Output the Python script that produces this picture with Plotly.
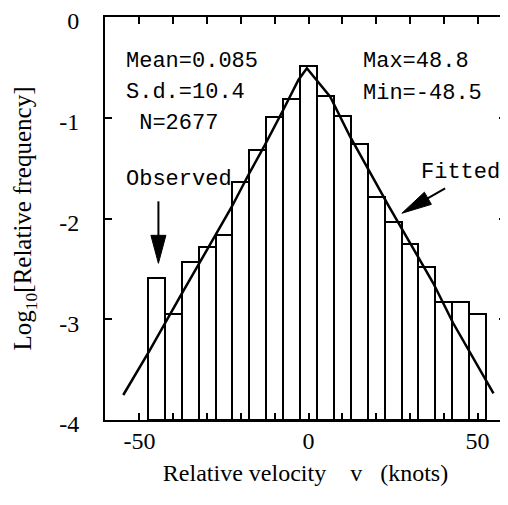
import plotly.graph_objects as go

# ---- data ----
bin_centers = [-45, -40, -35, -30, -25, -20, -15, -10, -5, 0,
               5, 10, 15, 20, 25, 30, 35, 40, 45, 50]
log_freq = [-2.59, -2.95, -2.43, -2.28, -2.16, -1.64, -1.32, -0.99, -0.81, -0.49,
            -0.78, -0.98, -1.26, -1.79, -2.03, -2.25, -2.48, -2.83, -2.83, -2.95]
bin_width = 5

fit_x = [-54.8, -46.9, -38.0, -28.2, -22.7, -17.8, -12.9, -7.5, -3.0, -0.5,
         6.4, 12.3, 17.2, 23.6, 36.9, 42.8, 54.7]
fit_y = [-3.752, -3.305, -2.776, -2.20, -1.883, -1.568, -1.270, -0.923, -0.625, -0.509,
         -0.791, -1.188, -1.486, -1.870, -2.643, -3.040, -3.735]

x_tickvals = [-50, -40, -30, -20, -10, 0, 10, 20, 30, 40, 50]
x_ticktext = ["-50", "", "", "", "", "0", "", "", "", "", "50"]
y_tickvals = [0, -1, -2, -3, -4]
y_ticktext = ["0", "-1", "-2", "-3", "-4"]

stats_left = ["Mean=0.085", "S.d.=10.4", " N=2677"]
stats_right = ["Max=48.8", "Min=-48.5"]

y_base = -4
x_range = [-60.2, 58.4]
y_range = [-4, 0]

serif = "Liberation Serif, Times New Roman, serif"
mono = "Liberation Mono, Courier New, monospace"

fig = go.Figure()
fig.add_trace(go.Bar(
    x=bin_centers,
    y=[v - y_base for v in log_freq],
    base=y_base,
    width=bin_width,
    marker=dict(color="white", line=dict(color="black", width=2)),
    showlegend=False,
))
fig.add_trace(go.Scatter(
    x=fit_x, y=fit_y, mode="lines",
    line=dict(color="black", width=2.5),
    showlegend=False,
))

annotations = []
for i, t in enumerate(stats_left):
    annotations.append(dict(x=-54.6, y=-0.44 - 0.31 * i, text=t, showarrow=False,
                            xanchor="left", yanchor="middle",
                            font=dict(family=mono, size=22, color="black")))
for i, t in enumerate(stats_right):
    annotations.append(dict(x=15.6, y=-0.445 - 0.31 * i, text=t, showarrow=False,
                            xanchor="left", yanchor="middle",
                            font=dict(family=mono, size=22, color="black")))
annotations.append(dict(x=-54.6, y=-1.61, text="Observed", showarrow=False,
                        xanchor="left", yanchor="middle",
                        font=dict(family=mono, size=22, color="black")))
annotations.append(dict(x=32.8, y=-1.54, text="Fitted", showarrow=False,
                        xanchor="left", yanchor="middle",
                        font=dict(family=mono, size=22, color="black")))

# arrows (pixel-sized shapes anchored at the arrow tips)
obs_tip = (-44.4, -2.445)
fit_tip = (27.6, -1.948)
shapes = [
    dict(type="path", xref="x", yref="y", xsizemode="pixel", ysizemode="pixel",
         xanchor=obs_tip[0], yanchor=obs_tip[1],
         path="M0,0 L-7.5,28 L7.5,28 Z", fillcolor="black", line=dict(color="black", width=1)),
    dict(type="line", xref="x", yref="y", xsizemode="pixel", ysizemode="pixel",
         xanchor=obs_tip[0], yanchor=obs_tip[1], x0=0, x1=0, y0=26, y1=62,
         line=dict(color="black", width=2)),
    dict(type="path", xref="x", yref="y", xsizemode="pixel", ysizemode="pixel",
         xanchor=fit_tip[0], yanchor=fit_tip[1],
         path="M0,0 L22.5,21.1 L29.5,8.9 Z", fillcolor="black", line=dict(color="black", width=1)),
    dict(type="line", xref="x", yref="y", xsizemode="pixel", ysizemode="pixel",
         xanchor=fit_tip[0], yanchor=fit_tip[1], x0=24, x1=43.3, y0=14, y1=25,
         line=dict(color="black", width=2)),
]

# the page adds an 8px body margin, so the figure is 8px smaller and shifted
fig.update_layout(
    width=500, height=497, autosize=False,
    margin=dict(l=97, r=2, t=9, b=85, autoexpand=False),
    paper_bgcolor="white", plot_bgcolor="white",
    bargap=0,
    annotations=annotations,
    shapes=shapes,
    font=dict(family=serif, color="black"),
)
fig.update_xaxes(
    range=x_range, tickmode="array", tickvals=x_tickvals, ticktext=x_ticktext,
    ticks="inside", ticklen=7, tickwidth=2, tickcolor="black",
    showline=True, linecolor="black", linewidth=2, mirror="ticks",
    showgrid=False, zeroline=False, automargin=False,
    tickfont=dict(family=serif, size=24, color="black"),
    ticklabelstandoff=-2, ticklabeloverflow="allow",
    title=dict(text="Relative velocity    v   (knots)",
               font=dict(family=serif, size=24, color="black"), standoff=11),
)
fig.update_yaxes(
    range=y_range, tickmode="array", tickvals=y_tickvals, ticktext=y_ticktext,
    ticks="inside", ticklen=7, tickwidth=2, tickcolor="black",
    showline=True, linecolor="black", linewidth=2, mirror="ticks",
    showgrid=False, zeroline=False, automargin=False,
    tickfont=dict(family=serif, size=24, color="black"),
    ticklabelstandoff=19, ticklabeloverflow="allow", ticklabelshift=4,
    title=dict(text="Log<sub>10</sub>[Relative frequency]",
               font=dict(family=serif, size=25, color="black"), standoff=20),
)

fig.write_html("out.html")
